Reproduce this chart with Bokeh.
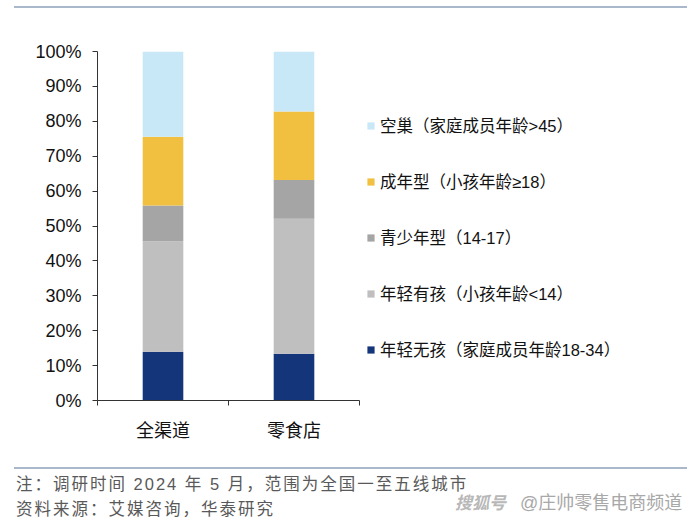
import numpy as np
from bokeh.plotting import figure
from bokeh.models import (ColumnDataSource, Range1d, FixedTicker, NumeralTickFormatter,
                          Legend, LegendItem, Div)
from bokeh.layouts import column
from bokeh.embed import file_html
from bokeh.resources import INLINE

# ---- data (percent of households) ----
channels = ["全渠道", "零食店"]
series_names = ["年轻无孩（家庭成员年龄18-34）", "年轻有孩（小孩年龄<14）",
                "青少年型（14-17）", "成年型（小孩年龄≥18）", "空巢（家庭成员年龄>45）"]
young_no_kids = [14.0, 13.4]
young_with_kids = [31.6, 38.7]
teen_family = [10.3, 11.1]
adult_family = [19.7, 19.6]
empty_nest = [24.4, 17.2]
y_ticks = [i / 10 for i in range(11)]
colors = ["#14357a", "#bfbfbf", "#a5a5a5", "#f2c040", "#c8e8f8"]

note_text = "注：调研时间 2024 年 5 月，范围为全国一至五线城市"
source_text = "资料来源：艾媒咨询，华泰研究"
wm_logo = "搜狐号"
wm_text = "@庄帅零售电商频道"

series = [young_no_kids, young_with_kids, teen_family, adult_family, empty_nest]
keys = ["s%d" % i for i in range(len(series))]
xpos = list(np.arange(len(channels)) + 0.5)
data = {"x": xpos}
for k, s in zip(keys, series):
    data[k] = [v / 100 for v in s]
src = ColumnDataSource(data)

CJK = "Noto Sans CJK SC"
MIX = "Liberation Sans, Noto Sans CJK SC"

# layout: plotting frame spans chart + legend area; the x axis is bounded to the categories
left_border = 97
chart_w = 262          # width of the category area
frame_w = 690 - left_border
n = len(channels)
x_end = n * frame_w / chart_w

p = figure(width=690, height=452, output_backend="svg", toolbar_location=None,
           x_range=Range1d(0, x_end), y_range=Range1d(0, 1),
           min_border_left=left_border, min_border_right=0, min_border_top=43, min_border_bottom=60,
           margin=(0, 0, 0, 0))
p.outline_line_color = None
p.xgrid.visible = False
p.ygrid.visible = False
p.background_fill_color = "white"

rs = p.vbar_stack(keys, x="x", width=0.31, source=src, fill_color=colors, line_color=None)

# y axis
ya = p.yaxis[0]
ya.ticker = FixedTicker(ticks=y_ticks)
ya.formatter = NumeralTickFormatter(format="0%")
ya.major_label_text_font = "Liberation Sans"
ya.major_label_text_font_size = "18px"
ya.major_label_text_color = "#111111"
ya.major_tick_out = 5
ya.major_tick_in = 0
ya.minor_tick_line_color = None
ya.major_label_standoff = 11
ya.axis_line_color = "#333333"
ya.major_tick_line_color = "#333333"

# x axis: labels at centres, ticks at category boundaries
xa = p.xaxis[0]
xa.bounds = (0, n)
xa.ticker = FixedTicker(ticks=xpos, minor_ticks=list(range(n + 1)))
xa.major_label_overrides = {float(x): c for x, c in zip(xpos, channels)}
xa.major_tick_line_color = None
xa.major_tick_out = 5
xa.minor_tick_out = 5
xa.minor_tick_in = 0
xa.minor_tick_line_color = "#333333"
xa.axis_line_color = "#333333"
xa.major_label_text_font = CJK
xa.major_label_text_font_size = "18px"
xa.major_label_text_color = "#111111"
xa.major_label_standoff = 10

# legend (top item = top stack)
items = [LegendItem(label=series_names[i], renderers=[rs[i]]) for i in reversed(range(len(series)))]
legend = Legend(items=items, location=(269, 39), glyph_width=9, glyph_height=9,
                label_height=24, spacing=32, padding=0, margin=0, label_standoff=5,
                border_line_color=None, background_fill_alpha=0,
                label_text_font=MIX, label_text_font_size="16.5px", label_text_color="#111111")
p.add_layout(legend)

top_div = Div(width=690, height=8, margin=(0, 0, 0, 0), text=(
    '<div style="position:relative;width:690px;height:8px;">'
    '<div style="position:absolute;left:14px;top:2px;width:673px;height:2px;background:#aab8cc;"></div>'
    '</div>'))

txt_style = ("position:absolute;white-space:nowrap;line-height:1;"
             "font-family:'Liberation Sans','Noto Sans CJK SC';")
bottom_div = Div(width=690, height=68, margin=(0, 0, 0, 0), text=(
    '<div style="position:relative;width:690px;height:68px;">'
    '<div style="position:absolute;left:14px;top:7px;width:673px;height:1.5px;background:#aab8cc;"></div>'
    f'<div style="{txt_style}left:16px;top:16px;font-size:16.5px;letter-spacing:2px;color:#595959;">{note_text}</div>'
    f'<div style="{txt_style}left:16px;top:41px;font-size:16.5px;letter-spacing:2px;color:#595959;">{source_text}</div>'
    f'<div style="{txt_style}left:455px;top:35px;font-size:17px;font-style:italic;font-weight:bold;color:#b8b8b8;">{wm_logo}</div>'
    f'<div style="{txt_style}left:520px;top:34px;font-size:18px;color:#a8a8a8;">{wm_text}</div>'
    '</div>'))

layout = column(top_div, p, bottom_div, spacing=0, margin=(0, 0, 0, 0))

open("out.html", "w").write(file_html(layout, INLINE))
